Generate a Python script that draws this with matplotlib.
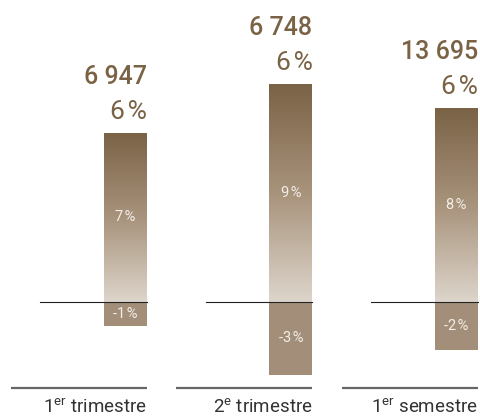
import matplotlib
matplotlib.use("Agg")
import matplotlib.pyplot as plt
import numpy as np
from matplotlib.colors import LinearSegmentedColormap

categories = ["1", "2", "1"]
sup = ["er", "e", "er"]
rest = ["trimestre", "trimestre", "semestre"]
totals = ["6 947", "6 748", "13 695"]
total_pct = [6, 6, 6]
pos_vals = [7, 9, 8]
neg_vals = [-1, -3, -2]

plt.rcParams['font.family'] = ['Roboto', 'DejaVu Sans']
plt.rcParams['mathtext.fontset'] = 'custom'
plt.rcParams['mathtext.rm'] = 'Roboto'

W, H = 481, 418
fig = plt.figure(figsize=(W/100, H/100), dpi=100)
ax = fig.add_axes([0, 0, 1, 1])
ppu = 24.2  # px per %
zero_px = 116
ax.set_ylim(-zero_px/ppu, (H-zero_px)/ppu)
spacing = 165.5
c0 = 125.5
ax.set_xlim(-c0/spacing, (W-c0)/spacing)
ax.axis('off')

bw = 43/spacing
brown = "#7a6245"
negc = "#a38f79"
cmap = LinearSegmentedColormap.from_list("g", ["#ddd5cb", "#a8937c", "#7a6245"])
grad = np.linspace(0, 1, 256).reshape(-1, 1)
ts = "\u200a"

x = np.arange(len(pos_vals))
for i in x:
    p = pos_vals[i]; n = neg_vals[i]
    bars = ax.bar(i, p, width=bw, color='none', edgecolor='none')
    r = bars[0]
    im = ax.imshow(grad, extent=[i-bw/2, i+bw/2, 0, p], origin='lower',
                   cmap=cmap, aspect='auto', zorder=1)
    im.set_clip_path(r)
    ax.bar(i, n, width=bw, color=negc, edgecolor='none', zorder=1)
    ax.plot([i-85/spacing, i+bw/2], [0, 0], color='#222222', lw=0.8, zorder=3)
    ax.plot([i-114.5/spacing, i+bw/2], [-86/ppu, -86/ppu], color='#666666', lw=1.6,
            solid_capstyle='butt')
    ax.text(i, p/2, f"{p}{ts}%", ha='center', va='center', color='#f3eee8', fontsize=10.5)
    ax.text(i, n/2, f"{n}{ts}%", ha='center', va='center', color='#f3eee8', fontsize=10.5)
    ax.text(i+bw/2, p + 56/ppu, totals[i], ha='right', va='center', color=brown,
            fontsize=18, fontweight='medium')
    ax.text(i+bw/2, p + 21/ppu, f"{total_pct[i]}{ts}%", ha='right', va='center', color=brown,
            fontsize=19, fontweight='normal')
    ax.text(i+bw/2, -106/ppu, categories[i] + r"$^{\mathrm{" + sup[i] + "}}$ " + rest[i],
            ha='right', va='center', color='#333333', fontsize=13.5)

fig.savefig("out.png", dpi=100)
